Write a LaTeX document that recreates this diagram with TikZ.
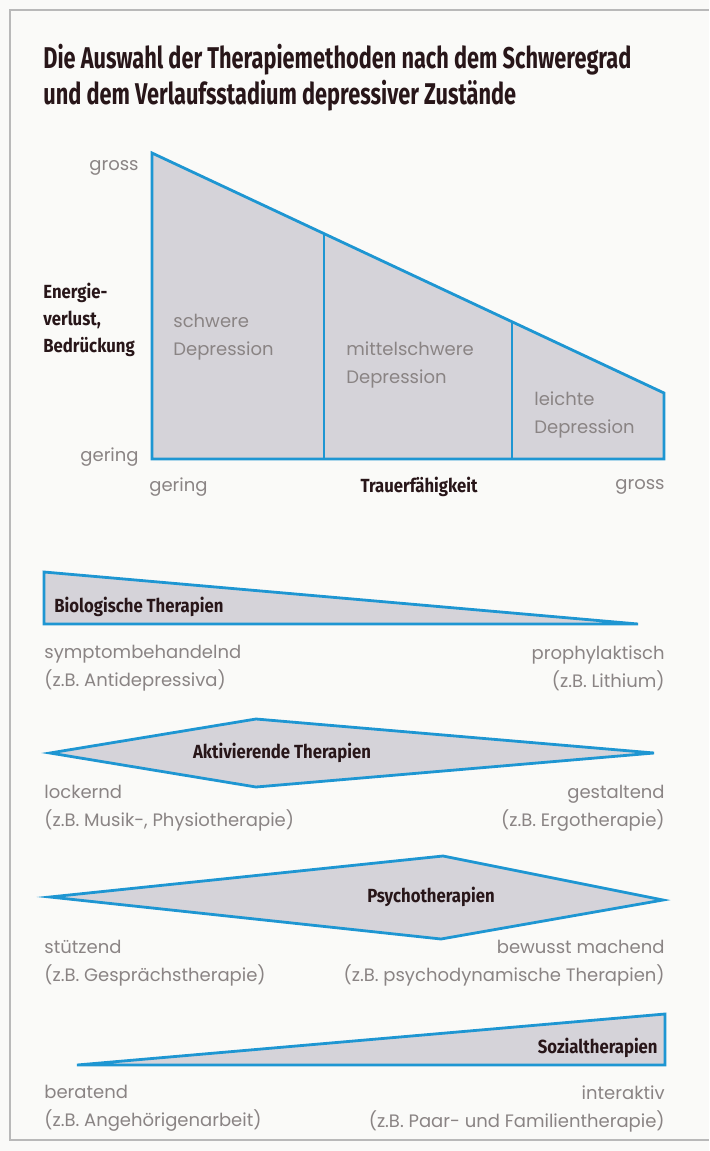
\documentclass[tikz,border=0pt]{standalone}
\usepackage{fontspec}
\setmainfont{Poppins}
\newfontfamily\headfont[FakeStretch=0.88]{Fira Sans}
\newfontfamily\titlefont[FakeStretch=0.725]{Fira Sans}
\usetikzlibrary{positioning}
\definecolor{lineblue}{RGB}{30,150,210}
\definecolor{boxgray}{RGB}{213,211,217}
\definecolor{txtgray}{RGB}{138,132,132}
\definecolor{headdark}{RGB}{40,22,25}
\definecolor{pagebg}{RGB}{250,250,248}

\begin{document}
\begin{tikzpicture}[x=0.5pt,y=-0.5pt,
                    wedge/.style={draw=lineblue, line width=1.4pt, fill=boxgray, line join=miter},
                    divider/.style={draw=lineblue, line width=1.4pt},
                    frame/.style={gray!55, line width=0.8pt},
                    grey/.style={text=txtgray, inner sep=0pt, align=left, font=\fontsize{9}{14}\selectfont},
                    greyr/.style={grey, align=right},
                    head/.style={text=headdark, inner sep=0pt, font=\headfont\bfseries\fontsize{9.5}{13.5}\selectfont},
                    title/.style={text=headdark, inner sep=0pt, align=left, font=\titlefont\bfseries\fontsize{15}{17.5}\selectfont},
                   ]

\useasboundingbox (0,0) rectangle (709,1151);
\fill[pagebg] (0,0) rectangle (709,1151);
\draw[frame] (709,10) -- (10,10) -- (10,1140) -- (709,1140);

\node[title, anchor=base west] (title) at (43,104) {Die Auswahl der Therapiemethoden nach dem Schweregrad\\und dem Verlaufsstadium depressiver Zustände};

% Schweregrad und Verlauf
\coordinate (tl) at (152,153);
\coordinate (bl) at (152,459);
\coordinate (br) at (664,459);
\coordinate (tr) at (664,393);

\draw[wedge] (tl) -- (bl) -- (br) -- (tr) -- cycle;
\draw[divider] (324,233.7) -- (324,459);
\draw[divider] (512,321.8) -- (512,459);

\node[grey, anchor=east] (ygross) at (139,168) {gross};
\node[grey, anchor=east] (ygering) at (139,457) {gering};
\node[head, anchor=west, align=left] (yaxis) at (43,320) {Energie-\\verlust,\\Bedrückung};

\node[grey, anchor=west] (schwer) at (173,337) {schwere\\Depression};
\node[grey, anchor=west] (mittel) at (346,365) {mittelschwere\\Depression};
\node[grey, anchor=west] (leicht) at (534,415) {leichte\\Depression};

\node[grey, anchor=west] (xgering) at (149,487) {gering};
\node[head] (xaxis) at (419,487) {Trauerfähigkeit};
\node[grey, anchor=east] (xgross) at (665,487) {gross};

% Biologische Therapien
\draw[wedge] (44,572) -- (44,624) -- (638,624) -- cycle;
\node[head, anchor=west] (bio) at (54,607) {Biologische Therapien};
\node[grey, anchor=north west] (biol) at (44,645) {symptombehandelnd\\(z.B. Antidepressiva)};
\node[greyr, anchor=north east] (bior) at (665,645) {prophylaktisch\\(z.B. Lithium)};

% Aktivierende Therapien
\draw[wedge] (50,753) -- (256,719) -- (654,753) -- (256,787) -- cycle;
\node[head] (akt) at (282,753) {Aktivierende Therapien};
\node[grey, anchor=north west] (aktl) at (44,785) {lockernd\\(z.B. Musik-, Physiotherapie)};
\node[greyr, anchor=north east] (aktr) at (665,785) {gestaltend\\(z.B. Ergotherapie)};

% Psychotherapien
\draw[wedge] (50,897) -- (443,856) -- (663,900) -- (441,939) -- cycle;
\node[head] (psy) at (431,897) {Psychotherapien};
\node[grey, anchor=north west] (psyl) at (44,940) {stützend\\(z.B. Gesprächstherapie)};
\node[greyr, anchor=north east] (psyr) at (665,940) {bewusst machend\\(z.B. psychodynamische Therapien)};

% Sozialtherapien
\draw[wedge] (77,1065) -- (665,1014) -- (665,1065) -- cycle;
\node[head, anchor=east] (soz) at (658,1048) {Sozialtherapien};
\node[grey, anchor=north west] (sozl) at (44,1085) {beratend\\(z.B. Angehörigenarbeit)};
\node[greyr, anchor=north east] (sozr) at (665,1085) {interaktiv\\(z.B. Paar- und Familientherapie)};

\end{tikzpicture}
\end{document}
